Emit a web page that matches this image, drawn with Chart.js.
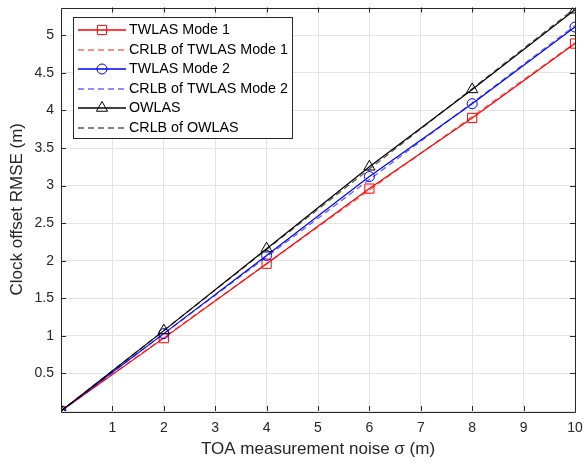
<!DOCTYPE html>
<html>
<head>
<meta charset="utf-8">
<script src="https://cdn.jsdelivr.net/npm/chart.js@4.4.1/dist/chart.umd.min.js"></script>
<style>
  html, body { margin: 0; padding: 0; background: #fff; }
  #wrap { width: 583px; height: 465px; position: relative; }
</style>
</head>
<body>
<div id="wrap"><canvas id="rmseChart" width="583" height="465"></canvas></div>
<script>
// Bruit de mesure TOA (m)
const sigma = [0, 2, 4, 6, 8, 10];

// RMSE de l'offset d'horloge (m)
const twlasMode1 = [0, 0.97, 1.96, 2.96, 3.90, 4.89];
const crlbMode1 = [0, 0.98, 1.96, 2.94, 3.92, 4.90];
const twlasMode2 = [0, 1.03, 2.07, 3.12, 4.09, 5.11];
const crlbMode2 = [0, 1.03, 2.05, 3.08, 4.10, 5.13];
const owlas = [0, 1.07, 2.16, 3.25, 4.28, 5.34];
const crlbOwlas = [0, 1.07, 2.15, 3.22, 4.29, 5.36];

const seriesNames = ['TWLAS Mode 1', 'CRLB of TWLAS Mode 1', 'TWLAS Mode 2',
    'CRLB of TWLAS Mode 2', 'OWLAS', 'CRLB of OWLAS'];

const xTicks = [1, 2, 3, 4, 5, 6, 7, 8, 9, 10];
const yTicks = [0.5, 1, 1.5, 2, 2.5, 3, 3.5, 4, 4.5, 5];

const axisColor = '#262626';
const font = "'Liberation Sans', Arial, Helvetica, sans-serif";

function toPoints(ys) {
    return sigma.map((x, i) => ({ x: x, y: ys[i] }));
}

function makeSet(i, ys, color, style, dashed) {
    return {
        label: seriesNames[i],
        data: toPoints(ys),
        borderColor: color,
        backgroundColor: 'rgba(0,0,0,0)',
        borderWidth: dashed ? 1.3 : 1.2,
        borderDash: dashed ? [6, 4] : [],
        pointStyle: style || false,
        pointRadius: style ? (style === 'rect' ? 6.5 : (style === 'triangle' ? 6.5 : 5)) : 0,
        pointBorderWidth: 1,
        pointBorderColor: color,
        pointBackgroundColor: 'rgba(0,0,0,0)',
        tension: 0,
        order: 5 - i
    };
}

const datasets = [
    makeSet(0, twlasMode1, '#ff0000', 'rect', false),
    makeSet(1, crlbMode1, 'rgba(255,0,0,0.6)', null, true),
    makeSet(2, twlasMode2, '#0000ff', 'circle', false),
    makeSet(3, crlbMode2, 'rgba(0,0,255,0.6)', null, true),
    makeSet(4, owlas, '#000000', 'triangle', false),
    makeSet(5, crlbOwlas, 'rgba(0,0,0,0.65)', null, true)
];

// Cadre, graduations internes et légende façon MATLAB
const matlabBox = {
    id: 'matlabBox',
    afterDatasetsDraw(chart) {
        const c = chart.ctx;
        const a = chart.chartArea;
        const xs = chart.scales.x;
        const ys = chart.scales.y;
        c.save();
        c.strokeStyle = axisColor;
        c.lineWidth = 1;
        c.beginPath();
        c.rect(Math.round(a.left) + 0.5, Math.round(a.top) + 0.5,
            Math.round(a.right - a.left), Math.round(a.bottom - a.top));
        c.stroke();
        c.beginPath();
        xTicks.forEach(v => {
            const px = Math.round(xs.getPixelForValue(v)) + 0.5;
            c.moveTo(px, a.bottom); c.lineTo(px, a.bottom - 5);
            c.moveTo(px, a.top); c.lineTo(px, a.top + 5);
        });
        yTicks.forEach(v => {
            const py = Math.round(ys.getPixelForValue(v)) + 0.5;
            c.moveTo(a.left, py); c.lineTo(a.left + 5, py);
            c.moveTo(a.right, py); c.lineTo(a.right - 5, py);
        });
        c.stroke();

        // Légende
        const lx = 73, ly = 17, lw = 219, lh = 121;
        c.fillStyle = '#fff';
        c.fillRect(lx, ly, lw, lh);
        c.strokeStyle = axisColor;
        c.strokeRect(lx + 0.5, ly + 0.5, lw, lh);
        c.font = '14.3px ' + font;
        c.textBaseline = 'middle';
        chart.data.datasets.forEach((ds, i) => {
            const y = Math.round(30 + i * 19.5);
            c.save();
            c.strokeStyle = ds.borderColor;
            c.lineWidth = 1.4;
            c.setLineDash(ds.borderDash);
            c.beginPath();
            c.moveTo(78, y); c.lineTo(126, y);
            c.stroke();
            c.restore();
            if (ds.pointStyle) {
                c.save();
                c.strokeStyle = ds.borderColor;
                c.fillStyle = 'rgba(0,0,0,0)';
                c.lineWidth = 1;
                Chart.helpers.drawPoint(c, {
                    pointStyle: ds.pointStyle, radius: ds.pointRadius, rotation: 0,
                    borderWidth: 1
                }, 102, y);
                c.restore();
            }
            c.fillStyle = '#000';
            c.fillText(ds.label, 129, y + 0.5);
        });
        c.restore();
    }
};

new Chart(document.getElementById('rmseChart'), {
    type: 'line',
    data: { datasets: datasets },
    options: {
        responsive: false,
        animation: false,
        layout: { padding: { left: 0, right: 8, top: 5, bottom: 0 } },
        plugins: {
            legend: { display: false },
            tooltip: { enabled: false }
        },
        scales: {
            x: {
                type: 'linear',
                min: 0,
                max: 10,
                afterBuildTicks: s => { s.ticks = [0].concat(xTicks).map(v => ({ value: v })); },
                afterFit: s => { s.height = 54; s.paddingLeft = 0; s.paddingRight = 0; },
                grid: { color: '#e3e3e3', drawTicks: false, lineWidth: 1 },
                border: { display: false },
                ticks: {
                    color: axisColor,
                    padding: 9,
                    maxRotation: 0,
                    autoSkip: false,
                    font: { family: font, size: 14 },
                    callback: v => (v === 0 ? '' : String(v))
                },
                title: {
                    display: true,
                    text: 'TOA measurement noise σ (m)',
                    color: axisColor,
                    font: { family: font, size: 17 },
                    padding: { top: 2, bottom: 5 }
                }
            },
            y: {
                type: 'linear',
                min: 0,
                max: 5.37,
                afterBuildTicks: s => { s.ticks = [0].concat(yTicks).map(v => ({ value: v })); },
                afterFit: s => { s.width = 61; s.paddingTop = 0; s.paddingBottom = 0; },
                grid: { color: '#e3e3e3', drawTicks: false, lineWidth: 1 },
                border: { display: false },
                ticks: {
                    color: axisColor,
                    padding: 7,
                    autoSkip: false,
                    font: { family: font, size: 14 },
                    callback: v => (v === 0 ? '' : String(v))
                },
                title: {
                    display: true,
                    text: 'Clock offset RMSE (m)',
                    color: axisColor,
                    font: { family: font, size: 17 },
                    padding: { top: 7, bottom: 4 }
                }
            }
        }
    },
    plugins: [matlabBox]
});
</script>
</body>
</html>
